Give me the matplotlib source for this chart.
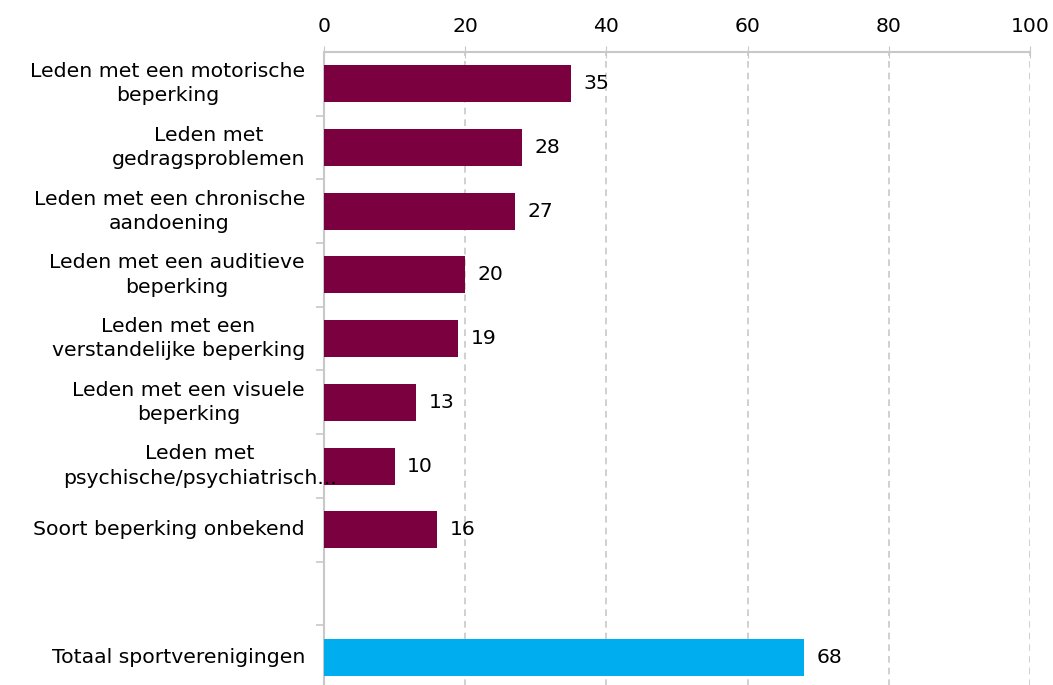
import matplotlib.pyplot as plt
import matplotlib.transforms as mtransforms
import numpy as np

# categorieen en percentages (leeg slot tussen de groepen)
labels = [
    "Leden met een motorische\nbeperking",
    "Leden met\ngedragsproblemen",
    "Leden met een chronische\naandoening",
    "Leden met een auditieve\nbeperking",
    "Leden met een\nverstandelijke beperking",
    "Leden met een visuele\nbeperking",
    "Leden met\npsychische/psychiatrisch...",
    "Soort beperking onbekend",
    "",
    "Totaal sportverenigingen",
]
values = [35, 28, 27, 20, 19, 13, 10, 16, None, 68]
value_labels = ["35", "28", "27", "20", "19", "13", "10", "16", "", "68"]
colors = ["#7B003F"] * 8 + [None, "#00AEEF"]

plt.rcParams['font.family'] = 'DejaVu Sans'
plt.rcParams['text.color'] = 'black'
fs = 14.7

fig = plt.figure(figsize=(10.53, 6.85), dpi=100)
ax = fig.add_axes([324 / 1053, 1 - 689 / 685, (1030 - 324) / 1053, (689 - 52) / 685])

n = len(labels)
y = np.arange(n)
for i in range(n):
    if values[i] is None:
        continue
    ax.barh(y[i], values[i], height=0.58, color=colors[i], zorder=3)
    ax.text(values[i] + 1.8, y[i], value_labels[i], va='center', ha='left',
            fontsize=fs, zorder=4)

ax.set_ylim(n - 0.5, -0.5)
ax.set_xlim(0, 100)

ax.xaxis.tick_top()
ax.set_xticks([0, 20, 40, 60, 80, 100])
ax.tick_params(axis='x', direction='inout', length=8, color='#C8C8C8',
               labelsize=fs, pad=7.5)
for x in [20, 40, 60, 80, 100]:
    ax.axvline(x, color='#C8C8C8', linestyle=(0, (4, 3)), linewidth=1.2, zorder=1)

# categorielabels als tekst (rechts uitgelijnd, regels gecentreerd)
ax.set_yticks([])
trans = mtransforms.blended_transform_factory(fig.transFigure, ax.transData)
for i, lab in enumerate(labels):
    if not lab:
        continue
    if lab.startswith("Leden met\npsychische"):
        ax.text(200 / 1053, y[i], lab, transform=trans, ha='center', va='center',
                multialignment='center', fontsize=fs, linespacing=1.35, clip_on=False)
    else:
        ax.text(305 / 1053, y[i], lab, transform=trans, ha='right', va='center',
                multialignment='center', fontsize=fs, linespacing=1.35, clip_on=False)

ax.set_yticks(np.arange(n - 1) + 0.5, minor=True)
ax.tick_params(axis='y', which='minor', length=6, color='#C8C8C8', width=1.2)

for s in ['right', 'bottom']:
    ax.spines[s].set_visible(False)
ax.spines['top'].set_color('#C8C8C8')
ax.spines['left'].set_color('#C8C8C8')
ax.spines['top'].set_linewidth(1.5)
ax.spines['left'].set_linewidth(1.5)

fig.savefig('out.png', dpi=100)
